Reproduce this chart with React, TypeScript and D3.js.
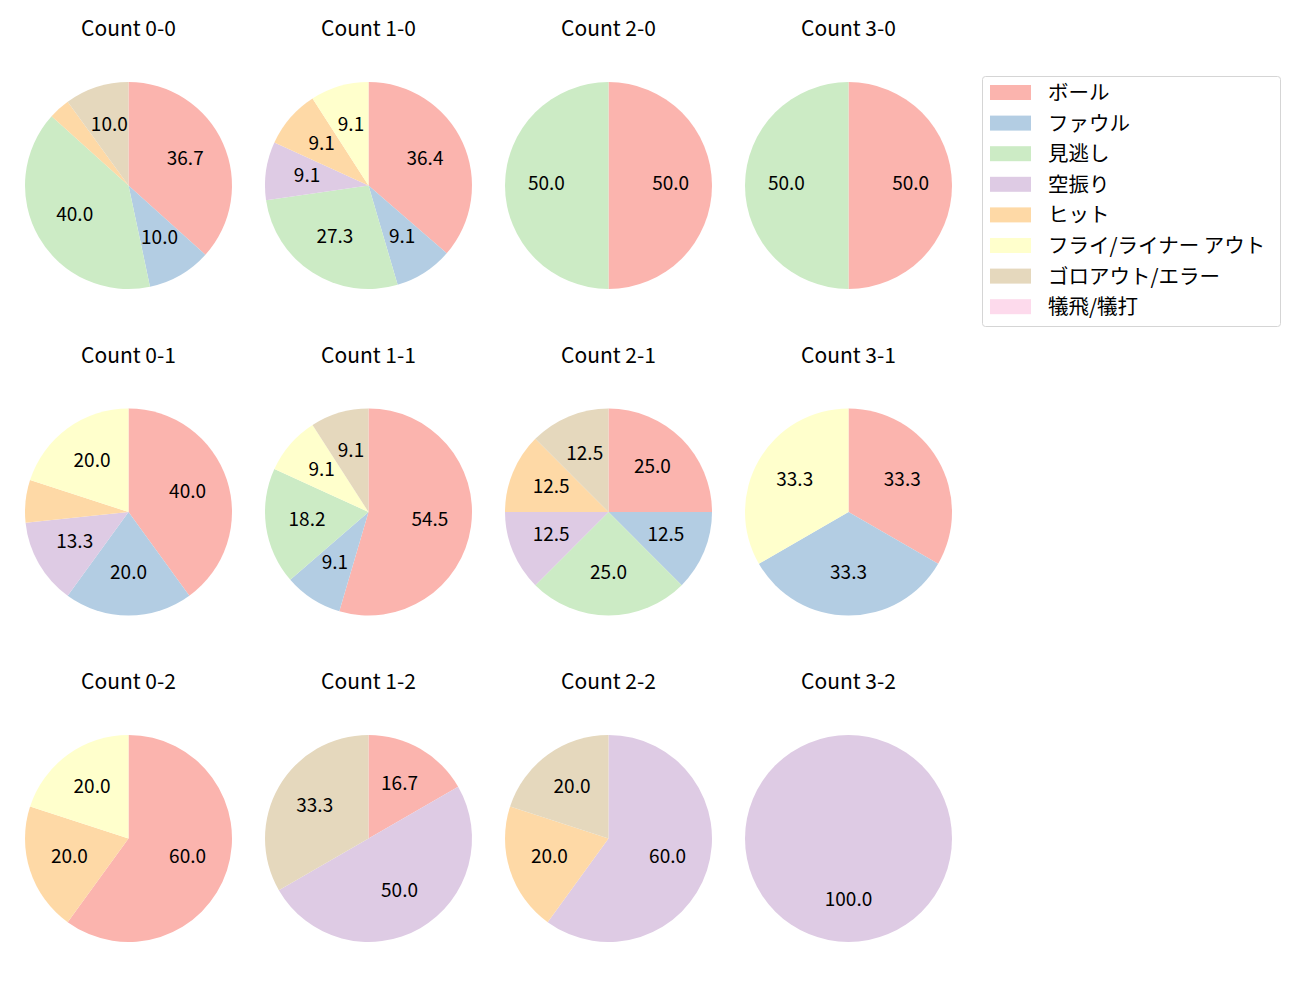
import React from "react";
import * as d3 from "d3";

const categories = ["ボール", "ファウル", "見逃し", "空振り", "ヒット", "フライ/ライナー アウト", "ゴロアウト/エラー", "犠飛/犠打"];
const colors = ["#fbb4ae", "#b3cde3", "#ccebc5", "#decbe4", "#fed9a6", "#ffffcc", "#e5d8bd", "#fddaec"];

const titles = [
  "Count 0-0", "Count 1-0", "Count 2-0", "Count 3-0",
  "Count 0-1", "Count 1-1", "Count 2-1", "Count 3-1",
  "Count 0-2", "Count 1-2", "Count 2-2", "Count 3-2",
];

// counts per category, in category order
const count00 = [11, 3, 12, 0, 1, 0, 3, 0];
const count10 = [4, 1, 3, 1, 1, 1, 0, 0];
const count20 = [1, 0, 1, 0, 0, 0, 0, 0];
const count30 = [1, 0, 1, 0, 0, 0, 0, 0];
const count01 = [6, 3, 0, 2, 1, 3, 0, 0];
const count11 = [6, 1, 2, 0, 0, 1, 1, 0];
const count21 = [2, 1, 2, 1, 1, 0, 1, 0];
const count31 = [1, 1, 0, 0, 0, 1, 0, 0];
const count02 = [3, 0, 0, 0, 1, 1, 0, 0];
const count12 = [1, 0, 0, 3, 0, 0, 2, 0];
const count22 = [0, 0, 0, 3, 1, 0, 1, 0];
const count32 = [0, 0, 0, 1, 0, 0, 0, 0];

const allCounts = [
  count00, count10, count20, count30,
  count01, count11, count21, count31,
  count02, count12, count22, count32,
];

const FONT = "'Noto Sans CJK JP', 'Noto Sans', sans-serif";

export default function App() {
  const R = 103.5;
  const colX = d3.scaleLinear().domain([0, 3]).range([128.5, 848.5]);
  const rowY = d3.scaleLinear().domain([0, 2]).range([185.5, 838.5]);
  const pie = d3.pie<number>().sort(null).value((d) => d).startAngle(0).endAngle(2 * Math.PI);
  const arc = d3.arc<d3.PieArcDatum<number>>().innerRadius(0).outerRadius(R);
  const labelSize = 19;

  return (
    <svg width={1300} height={1000} style={{ position: "absolute", left: 0, top: 0, background: "#fff" }} fontFamily={FONT}>
      <rect x={0} y={0} width={1300} height={1000} fill="#fff" />
      {allCounts.map((vals, i) => {
        const col = i % 4;
        const row = Math.floor(i / 4);
        const cx = colX(col);
        const cy = rowY(row);
        const total = d3.sum(vals);
        const arcs = pie(vals);
        return (
          <g key={i}>
            <text x={cx} y={cy - 149.5} textAnchor="middle" fontSize={21} fill="#000">
              {titles[i]}
            </text>
            <g transform={`translate(${cx},${cy})`}>
              {arcs.map((a, j) =>
                a.value > 0 ? <path key={j} d={arc(a) || ""} fill={colors[j]} /> : null
              )}
              {arcs.map((a, j) => {
                const pct = (a.value / total) * 100;
                if (pct < 8) return null;
                const mid = (a.startAngle + a.endAngle) / 2;
                const x = Math.sin(mid) * R * 0.6;
                const y = -Math.cos(mid) * R * 0.6;
                return (
                  <text key={"t" + j} x={x} y={y - 2 + 0.365 * labelSize} textAnchor="middle" fontSize={labelSize} fill="#000">
                    {pct.toFixed(1)}
                  </text>
                );
              })}
            </g>
          </g>
        );
      })}
      <g>
        <rect x={982.5} y={76.5} width={298} height={250} rx={3} fill="#fff" stroke="#d5d5d5" strokeWidth={1} />
        {categories.map((c, j) => {
          const y = 92.5 + j * 30.6;
          return (
            <g key={c}>
              <rect x={990} y={y - 7.5} width={41} height={15} fill={colors[j]} />
              <text x={1048} y={y + 7.5} fontSize={20.5} fill="#000">
                {c}
              </text>
            </g>
          );
        })}
      </g>
    </svg>
  );
}
